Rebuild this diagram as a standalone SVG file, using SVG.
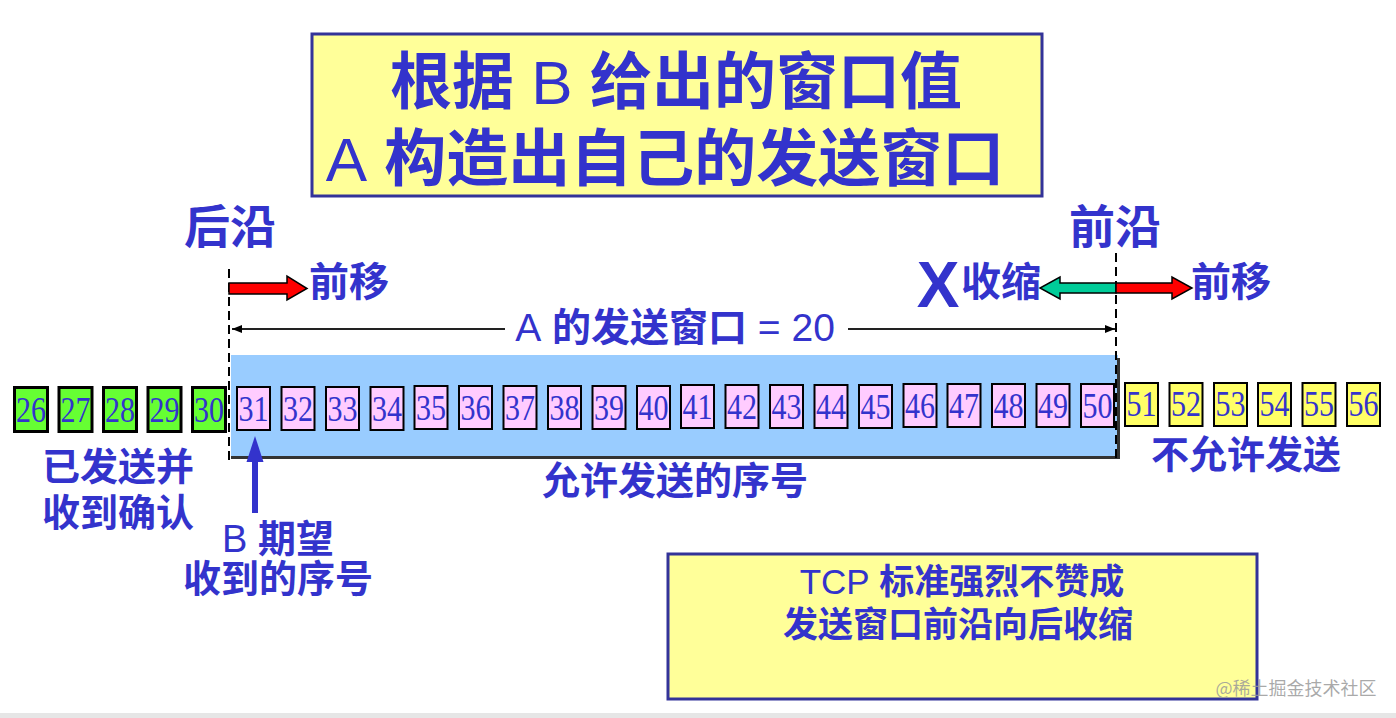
<svg xmlns="http://www.w3.org/2000/svg" width="1396" height="718" viewBox="0 0 1396 718">
<defs>
<style>
.lbl{font-family:"Liberation Sans","Noto Sans CJK SC",sans-serif;font-weight:bold;fill:#3333CC;text-anchor:middle}
.lat{font-weight:normal}
.num{font-family:"Liberation Serif","DejaVu Serif",serif;font-size:35px;fill:#3333CC;text-anchor:middle}
.green{fill:#66FF33;stroke:#000;stroke-width:3}
.pink{fill:#FFCCFF;stroke:#000;stroke-width:2}
.yellow{fill:#FFFF66;stroke:#000;stroke-width:2}
.note{fill:#FFFF99;stroke:#333399;stroke-width:3}
.dash{stroke:#000;stroke-width:2;stroke-dasharray:9 5;fill:none}
.thin{stroke:#222;stroke-width:2;fill:none}
</style>
<marker id="ah" viewBox="0 0 10 8" refX="10" refY="4" markerWidth="10" markerHeight="8" markerUnits="userSpaceOnUse" orient="auto-start-reverse">
<path d="M0,0 L10,4 L0,8 z" fill="#000"/>
</marker>
</defs>
<rect x="0" y="0" width="1396" height="718" fill="#FFFFFF"/>
<rect x="0" y="713" width="1396" height="5" fill="#E6E6E6"/>

<g id="title">
<rect class="note" x="312" y="34" width="730" height="162"/>
<text class="lbl" x="676" y="104" font-size="62">根据 <tspan class="lat">B</tspan> 给出的窗口值</text>
<text class="lbl" x="665" y="181" font-size="62"><tspan class="lat">A</tspan> 构造出自己的发送窗口</text>
</g>

<g id="window-band">
<rect x="231" y="355" width="887" height="102" fill="#99CCFF"/>
<line x1="231" y1="457.5" x2="1119" y2="457.5" stroke="#333" stroke-width="3"/>
<line x1="1118.5" y1="358" x2="1118.5" y2="459" stroke="#333" stroke-width="3"/>
</g>

<g id="labels">
<text class="lbl" x="230" y="243" font-size="46">后沿</text>
<text class="lbl" x="1115" y="243" font-size="46">前沿</text>
<text class="lbl" x="349" y="296" font-size="40">前移</text>
<text class="lbl" x="1231" y="296" font-size="40">前移</text>
<text class="lbl" x="1001" y="296" font-size="40">收缩</text>
<text class="lbl" x="938" y="307" font-size="64">X</text>
<text class="lbl" x="675" y="341" font-size="39"><tspan class="lat">A</tspan> 的发送窗口 <tspan class="lat">= 20</tspan></text>
<text class="lbl" x="118" y="480" font-size="38">已发送并</text>
<text class="lbl" x="118" y="526" font-size="38">收到确认</text>
<text class="lbl" x="278" y="552" font-size="38"><tspan class="lat">B</tspan> 期望</text>
<text class="lbl" x="278" y="592" font-size="38">收到的序号</text>
<text class="lbl" x="675" y="494" font-size="38">允许发送的序号</text>
<text class="lbl" x="1246" y="468" font-size="38">不允许发送</text>
</g>

<g id="sent-acked">
<g id="seq26" transform="translate(13,386)"><rect class="green" x="1.5" y="1.5" width="33" height="44"/><text class="num" x="18" y="36" textLength="30" lengthAdjust="spacingAndGlyphs">26</text></g>
<g id="seq27" transform="translate(57.5,386)"><rect class="green" x="1.5" y="1.5" width="33" height="44"/><text class="num" x="18" y="36" textLength="30" lengthAdjust="spacingAndGlyphs">27</text></g>
<g id="seq28" transform="translate(102,386)"><rect class="green" x="1.5" y="1.5" width="33" height="44"/><text class="num" x="18" y="36" textLength="30" lengthAdjust="spacingAndGlyphs">28</text></g>
<g id="seq29" transform="translate(146.5,386)"><rect class="green" x="1.5" y="1.5" width="33" height="44"/><text class="num" x="18" y="36" textLength="30" lengthAdjust="spacingAndGlyphs">29</text></g>
<g id="seq30" transform="translate(191,386)"><rect class="green" x="1.5" y="1.5" width="33" height="44"/><text class="num" x="18" y="36" textLength="30" lengthAdjust="spacingAndGlyphs">30</text></g>
</g>

<g id="allowed">
<g id="seq31" transform="translate(236,386)"><rect class="pink" x="1" y="1" width="33" height="43"/><text class="num" x="17.5" y="35" textLength="30" lengthAdjust="spacingAndGlyphs">31</text></g>
<g id="seq32" transform="translate(280.5,386)"><rect class="pink" x="1" y="1" width="33" height="43"/><text class="num" x="17.5" y="35" textLength="30" lengthAdjust="spacingAndGlyphs">32</text></g>
<g id="seq33" transform="translate(325,386)"><rect class="pink" x="1" y="1" width="33" height="43"/><text class="num" x="17.5" y="35" textLength="30" lengthAdjust="spacingAndGlyphs">33</text></g>
<g id="seq34" transform="translate(369.5,386)"><rect class="pink" x="1" y="1" width="33" height="43"/><text class="num" x="17.5" y="35" textLength="30" lengthAdjust="spacingAndGlyphs">34</text></g>
<g id="seq35" transform="translate(413.5,385)"><rect class="pink" x="1" y="1" width="33" height="43"/><text class="num" x="17.5" y="35" textLength="30" lengthAdjust="spacingAndGlyphs">35</text></g>
<g id="seq36" transform="translate(458,385)"><rect class="pink" x="1" y="1" width="33" height="43"/><text class="num" x="17.5" y="35" textLength="30" lengthAdjust="spacingAndGlyphs">36</text></g>
<g id="seq37" transform="translate(502.5,385)"><rect class="pink" x="1" y="1" width="33" height="43"/><text class="num" x="17.5" y="35" textLength="30" lengthAdjust="spacingAndGlyphs">37</text></g>
<g id="seq38" transform="translate(547,385)"><rect class="pink" x="1" y="1" width="33" height="43"/><text class="num" x="17.5" y="35" textLength="30" lengthAdjust="spacingAndGlyphs">38</text></g>
<g id="seq39" transform="translate(591.5,385)"><rect class="pink" x="1" y="1" width="33" height="43"/><text class="num" x="17.5" y="35" textLength="30" lengthAdjust="spacingAndGlyphs">39</text></g>
<g id="seq40" transform="translate(636,385)"><rect class="pink" x="1" y="1" width="33" height="43"/><text class="num" x="17.5" y="35" textLength="30" lengthAdjust="spacingAndGlyphs">40</text></g>
<g id="seq41" transform="translate(680,384)"><rect class="pink" x="1" y="1" width="33" height="43"/><text class="num" x="17.5" y="35" textLength="30" lengthAdjust="spacingAndGlyphs">41</text></g>
<g id="seq42" transform="translate(724.5,384)"><rect class="pink" x="1" y="1" width="33" height="43"/><text class="num" x="17.5" y="35" textLength="30" lengthAdjust="spacingAndGlyphs">42</text></g>
<g id="seq43" transform="translate(769,384)"><rect class="pink" x="1" y="1" width="33" height="43"/><text class="num" x="17.5" y="35" textLength="30" lengthAdjust="spacingAndGlyphs">43</text></g>
<g id="seq44" transform="translate(813.5,384)"><rect class="pink" x="1" y="1" width="33" height="43"/><text class="num" x="17.5" y="35" textLength="30" lengthAdjust="spacingAndGlyphs">44</text></g>
<g id="seq45" transform="translate(858,384)"><rect class="pink" x="1" y="1" width="33" height="43"/><text class="num" x="17.5" y="35" textLength="30" lengthAdjust="spacingAndGlyphs">45</text></g>
<g id="seq46" transform="translate(902.5,383)"><rect class="pink" x="1" y="1" width="33" height="43"/><text class="num" x="17.5" y="35" textLength="30" lengthAdjust="spacingAndGlyphs">46</text></g>
<g id="seq47" transform="translate(946.5,383)"><rect class="pink" x="1" y="1" width="33" height="43"/><text class="num" x="17.5" y="35" textLength="30" lengthAdjust="spacingAndGlyphs">47</text></g>
<g id="seq48" transform="translate(991,383)"><rect class="pink" x="1" y="1" width="33" height="43"/><text class="num" x="17.5" y="35" textLength="30" lengthAdjust="spacingAndGlyphs">48</text></g>
<g id="seq49" transform="translate(1035.5,383)"><rect class="pink" x="1" y="1" width="33" height="43"/><text class="num" x="17.5" y="35" textLength="30" lengthAdjust="spacingAndGlyphs">49</text></g>
<g id="seq50" transform="translate(1080,383)"><rect class="pink" x="1" y="1" width="33" height="43"/><text class="num" x="17.5" y="35" textLength="30" lengthAdjust="spacingAndGlyphs">50</text></g>
</g>

<g id="not-allowed">
<g id="seq51" transform="translate(1124,382)"><rect class="yellow" x="1" y="1" width="33" height="43"/><text class="num" x="17.5" y="34" textLength="30" lengthAdjust="spacingAndGlyphs">51</text></g>
<g id="seq52" transform="translate(1168.5,382)"><rect class="yellow" x="1" y="1" width="33" height="43"/><text class="num" x="17.5" y="34" textLength="30" lengthAdjust="spacingAndGlyphs">52</text></g>
<g id="seq53" transform="translate(1213,382)"><rect class="yellow" x="1" y="1" width="33" height="43"/><text class="num" x="17.5" y="34" textLength="30" lengthAdjust="spacingAndGlyphs">53</text></g>
<g id="seq54" transform="translate(1257,382)"><rect class="yellow" x="1" y="1" width="33" height="43"/><text class="num" x="17.5" y="34" textLength="30" lengthAdjust="spacingAndGlyphs">54</text></g>
<g id="seq55" transform="translate(1301.5,382)"><rect class="yellow" x="1" y="1" width="33" height="43"/><text class="num" x="17.5" y="34" textLength="30" lengthAdjust="spacingAndGlyphs">55</text></g>
<g id="seq56" transform="translate(1346,382)"><rect class="yellow" x="1" y="1" width="33" height="43"/><text class="num" x="17.5" y="34" textLength="30" lengthAdjust="spacingAndGlyphs">56</text></g>
</g>

<g id="connectors">
<line class="dash" x1="229" y1="269" x2="229" y2="460"/>
<line class="dash" x1="1116" y1="253" x2="1116" y2="460"/>
<line class="thin" x1="505" y1="329" x2="232" y2="329" marker-end="url(#ah)"/>
<line class="thin" x1="848" y1="329" x2="1115" y2="329" marker-end="url(#ah)"/>
<polygon points="229,283 287,283 287,276 307,288.5 287,300 287,294 229,294" fill="#FF0000" stroke="#000" stroke-width="1.5"/>
<polygon points="1116,283 1060,283 1060,277 1040,288 1060,299 1060,293 1116,293" fill="#00CC99" stroke="#000" stroke-width="1.5"/>
<polygon points="1116,283 1172,283 1172,277 1192,288 1172,299 1172,293 1116,293" fill="#FF0000" stroke="#000" stroke-width="1.5"/>
<rect x="252" y="459" width="6" height="54" fill="#3333CC"/>
<polygon points="246.5,462 255,436 263.5,462" fill="#3333CC"/>
</g>

<g id="note">
<rect class="note" x="668" y="554" width="589" height="145"/>
<text class="lbl" x="962" y="594" font-size="35"><tspan class="lat">TCP</tspan> 标准强烈不赞成</text>
<text class="lbl" x="958" y="637" font-size="35">发送窗口前沿向后收缩</text>
</g>

<text x="1296" y="695" font-family="'Noto Sans CJK SC','Liberation Sans',sans-serif" font-size="18" fill="#9A9A9A" fill-opacity="0.85" text-anchor="middle">@稀土掘金技术社区</text>
</svg>
